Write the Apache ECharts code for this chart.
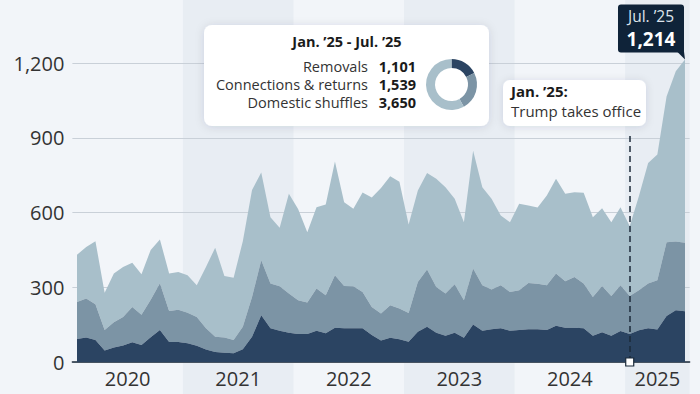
<!DOCTYPE html>
<html><head><meta charset="utf-8">
<script src="https://cdn.jsdelivr.net/npm/echarts@6/dist/echarts.min.js"></script>
<style>html,body{margin:0;padding:0;background:#f2f5f9;}#c{width:700px;height:394px;}</style>
</head><body><div id="c"></div>
<script>
// ---- data (monthly, Jan 2020 - Jul 2025) ----
const years = ['2020', '2021', '2022', '2023', '2024', '2025'];
const monthsPerYear = [12, 12, 12, 12, 12, 7];
const monthNames = ['Jan', 'Feb', 'Mar', 'Apr', 'May', 'Jun', 'Jul', 'Aug', 'Sep', 'Oct', 'Nov', 'Dec'];
const seriesNames = ['Removals', 'Connections & returns', 'Domestic shuffles'];
const removals = [
  92, 98, 88, 46, 58, 66, 79, 68, 99, 128, 80, 80,
  75, 65, 50, 40, 37, 35, 51, 101, 188, 135, 125, 117,
  112, 112, 125, 115, 137, 135, 135, 135, 108, 86, 97, 91,
  81, 121, 141, 117, 105, 117, 97, 151, 125, 131, 135, 125,
  128, 131, 131, 128, 145, 137, 137, 135, 105, 119, 105, 124,
  112, 127, 135, 130, 185, 208, 204
];
const connections = [
  149, 157, 144, 82, 102, 115, 142, 122, 151, 188, 125, 130,
  123, 116, 85, 61, 61, 53, 90, 160, 220, 180, 179, 158,
  136, 127, 170, 153, 211, 170, 169, 146, 113, 109, 131, 124,
  116, 200, 230, 184, 170, 195, 151, 224, 183, 160, 173, 156,
  160, 186, 183, 180, 210, 187, 204, 180, 156, 186, 160, 184,
  153, 161, 180, 198, 296, 276, 275
];
const domestic = [
  189, 207, 253, 150, 195, 200, 177, 162, 200, 176, 150, 151,
  150, 127, 246, 358, 247, 250, 344, 429, 353, 266, 235, 400,
  366, 282, 326, 364, 457, 336, 311, 399, 439, 503, 517, 508,
  355, 367, 388, 434, 426, 343, 313, 473, 393, 364, 280, 280,
  347, 311, 306, 360, 380, 351, 340, 364, 320, 312, 296, 313,
  280, 378, 484, 505, 585, 683, 735
];
const yTicks = [0, 300, 600, 900, 1200];
const periodTitle = 'Jan. \u201925 - Jul. \u201925';
const periodStart = 60;           // Jan 2025 index
const eventLabel = ['Jan. \u201925:', 'Trump takes office'];
const lastLabel = 'Jul. \u201925';

// ---- derived ----
const colors = ['#2b4462', '#7c94a5', '#a8bfca'];
const N = removals.length;
const months = [];
years.forEach((y, k) => { for (let m = 0; m < monthsPerYear[k]; m++) months.push(monthNames[m] + ' ' + y); });
const yearStart = [];
let acc = 0;
monthsPerYear.forEach(m => { yearStart.push(acc); acc += m; });
const yearCenters = yearStart.map((s, k) => s + (monthsPerYear[k] - 1) / 2);
const bands = [];
years.forEach((y, k) => {
  if (k % 2 === 1) bands.push([{ xAxis: yearStart[k] - 0.5 }, { xAxis: yearStart[k] + monthsPerYear[k] - 0.5 }]);
});
const fmt = v => v.toLocaleString('en-US');
const sumFrom = arr => arr.slice(periodStart).reduce((a, b) => a + b, 0);
const sums = [sumFrom(removals), sumFrom(connections), sumFrom(domestic)];
const lastTotal = removals[N - 1] + connections[N - 1] + domestic[N - 1];

const FONT = 'Open Sans';
const DARK = '#0f2339';
const chart = echarts.init(document.getElementById('c'), null, { renderer: 'svg' });

const gridL = 72.4, gridR = 10.4;

function areaSeries(name, arr, color, extra) {
  return Object.assign({
    name, type: 'line', stack: 'total', data: arr,
    xAxisIndex: 0, yAxisIndex: 0,
    symbol: 'none', showSymbol: false, clip: false,
    lineStyle: { width: 0 }, areaStyle: { color: color, opacity: 1 },
    itemStyle: { color: color }, silent: true, z: 2
  }, extra || {});
}

const graphics = [
  {
    type: 'rect', z: 20, shape: { x: 204, y: 25, width: 285, height: 101, r: 8 },
    style: { fill: '#ffffff', shadowBlur: 10, shadowColor: 'rgba(20,40,70,0.12)', shadowOffsetY: 1 }
  },
  {
    type: 'text', z: 21, x: 347, y: 41,
    style: { text: periodTitle, fontFamily: FONT, fontSize: 14.5, fontWeight: 'bold', fill: '#1a1a1a', align: 'center', verticalAlign: 'middle' }
  },
  ...seriesNames.map((n, k) => ({
    type: 'text', z: 21, x: 368, y: 66.5 + k * 18,
    style: { text: n, fontFamily: FONT, fontSize: 14.5, fill: '#333', align: 'right', verticalAlign: 'middle' }
  })),
  ...sums.map((v, k) => ({
    type: 'text', z: 21, x: 416, y: 66.5 + k * 18,
    style: { text: fmt(v), fontFamily: FONT, fontSize: 14.5, fontWeight: 'bold', fill: '#1a1a1a', align: 'right', verticalAlign: 'middle' }
  })),
  {
    type: 'rect', z: 20, shape: { x: 503, y: 80, width: 143, height: 46, r: 7 },
    style: { fill: '#ffffff', shadowBlur: 8, shadowColor: 'rgba(20,40,70,0.12)', shadowOffsetY: 1 }
  },
  {
    type: 'text', z: 21, x: 511, y: 91,
    style: { text: eventLabel[0], fontFamily: FONT, fontSize: 15, fontWeight: 'bold', fill: '#1a1a1a', align: 'left', verticalAlign: 'middle' }
  },
  {
    type: 'text', z: 21, x: 511, y: 111,
    style: { text: eventLabel[1], fontFamily: FONT, fontSize: 15, fill: '#333', align: 'left', verticalAlign: 'middle' }
  }
];

chart.setOption({
  animation: false,
  backgroundColor: '#f2f5f9',
  textStyle: { fontFamily: FONT },
  grid: [
    { left: gridL, right: gridR, top: 63, bottom: 32 },
    { left: gridL, right: gridR, top: 0, bottom: 0 }
  ],
  xAxis: [
    {
      type: 'category', gridIndex: 0, data: months, boundaryGap: true, z: 3,
      axisLine: { show: true, lineStyle: { color: '#1b2a3a', width: 1.5 } },
      axisTick: { show: false }, splitLine: { show: false }, axisLabel: { show: false }
    },
    {
      type: 'value', gridIndex: 0, min: -0.5, max: N - 0.5, position: 'bottom', z: 3,
      axisLine: { show: false }, axisTick: { show: false }, splitLine: { show: false },
      axisLabel: {
        customValues: yearCenters, hideOverlap: false,
        formatter: v => years[yearCenters.indexOf(v)] || '',
        fontSize: 20, color: '#333', margin: 6, fontFamily: FONT
      }
    },
    { type: 'value', gridIndex: 1, min: -0.5, max: N - 0.5, show: false }
  ],
  yAxis: [
    {
      type: 'value', gridIndex: 0, min: yTicks[0], max: yTicks[yTicks.length - 1], interval: 300, z: 0,
      axisLine: { show: false }, axisTick: { show: false },
      splitLine: { show: true, lineStyle: { color: '#c9d0d8', width: 1 } },
      axisLabel: { fontSize: 20, color: '#333', margin: 8, formatter: v => fmt(v), fontFamily: FONT }
    },
    { type: 'value', gridIndex: 1, min: 0, max: 1, show: false }
  ],
  series: [
    {
      type: 'line', xAxisIndex: 2, yAxisIndex: 1, data: [[-0.5, 0]], symbol: 'none',
      lineStyle: { opacity: 0 }, silent: true, z: -5,
      markArea: { silent: true, z: -5, itemStyle: { color: '#e8edf3' }, data: bands }
    },
    areaSeries(seriesNames[0], removals, colors[0], {
      markPoint: {
        silent: true, symbol: 'rect', symbolSize: 8,
        itemStyle: { color: '#ffffff', borderColor: '#1b2a3a', borderWidth: 1.2 },
        label: { show: false },
        data: [{ coord: [periodStart, 0] }]
      },
      z: 4
    }),
    areaSeries(seriesNames[1], connections, colors[1], { z: 3 }),
    areaSeries(seriesNames[2], domestic, colors[2], {
      z: 2,
      markLine: {
        silent: true, symbol: ['none', 'none'], label: { show: false },
        lineStyle: { color: '#1b2a3a', type: [6, 4], width: 1.5 },
        data: [[{ coord: [periodStart, 0] }, { coord: [periodStart, 920] }]]
      }
    }),
    {
      type: 'pie', center: [451.5, 84.5], radius: [16.5, 25.5], startAngle: 90, clockwise: true,
      label: { show: false }, labelLine: { show: false }, silent: true, z: 30,
      data: sums.map((v, k) => ({ name: seriesNames[k], value: v, itemStyle: { color: colors[k] } }))
    }
  ],
  graphic: graphics
});

// callout for the last month, anchored at its stacked total through the axes
const p = chart.convertToPixel({ gridIndex: 0 }, [N - 1, lastTotal]);
const bw = 66, bh = 48, tail = 7;
const bx = p[0] - bw - 1, by = p[1] - tail - bh;
graphics.push(
  {
    type: 'polygon', z: 40,
    shape: { points: [[p[0] - 8, p[1] - tail - 1], [p[0] - 1, p[1] - tail - 1], [p[0], p[1]]] },
    style: { fill: DARK }
  },
  {
    type: 'rect', z: 40,
    shape: { x: bx, y: by, width: bw, height: bh, r: [3, 3, 0, 3] },
    style: { fill: DARK }
  },
  {
    type: 'text', z: 41, x: bx + bw / 2, y: by + 11,
    style: { text: lastLabel, fontFamily: FONT, fontSize: 15.5, fill: '#dde4ec', align: 'center', verticalAlign: 'middle' }
  },
  {
    type: 'text', z: 41, x: bx + bw / 2, y: by + 34,
    style: { text: fmt(lastTotal), fontFamily: FONT, fontSize: 19, fontWeight: 'bold', fill: '#ffffff', align: 'center', verticalAlign: 'middle' }
  }
);
chart.setOption({ graphic: graphics });
</script>
</body></html>
